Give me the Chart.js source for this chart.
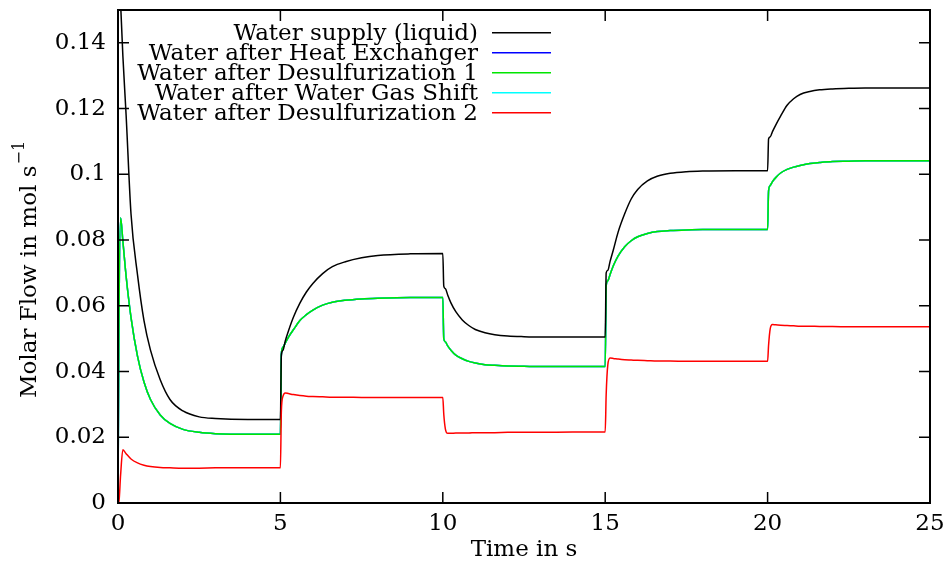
<!DOCTYPE html>
<html>
<head>
<meta charset="utf-8">
<script src="https://cdn.jsdelivr.net/npm/chart.js@4.4.1/dist/chart.umd.min.js"></script>
<style>
  html, body { margin: 0; padding: 0; background: #fff; }
  #wrap { width: 948px; height: 566px; }
</style>
</head>
<body>
<div id="wrap"><canvas id="myChart" width="948" height="566"></canvas></div>
<script>
// time samples (s), five step segments of the simulation
var times = [
  0, 0.03, 0.08, 0.15, 0.25, 0.4, 0.6, 0.8, 1, 1.3, 1.6, 2, 2.5, 3, 4,
  5, 5.03, 5.08, 5.15, 5.25, 5.4, 5.6, 5.8, 6, 6.3, 6.6, 7, 7.5, 8, 9,
  10, 10.03, 10.08, 10.15, 10.25, 10.4, 10.6, 10.8, 11, 11.3, 11.6, 12, 12.5, 13, 14,
  15, 15.03, 15.08, 15.15, 15.25, 15.4, 15.6, 15.8, 16, 16.3, 16.6, 17, 17.5, 18, 19,
  20, 20.03, 20.08, 20.15, 20.25, 20.4, 20.6, 20.8, 21, 21.3, 21.6, 22, 22.5, 23, 24,
  25
];

var waterSupply = [
  0.175, 0.166, 0.152, 0.136, 0.118, 0.088, 0.0695, 0.0555, 0.0465, 0.0375, 0.0315, 0.0280, 0.0262, 0.0257, 0.0254,
  0.0254, 0.0450, 0.0465, 0.0493, 0.0524, 0.0565, 0.0608, 0.0642, 0.0668, 0.0698, 0.0719, 0.0734, 0.0746, 0.0753, 0.0758,
  0.0759, 0.0660, 0.0652, 0.0633, 0.0609, 0.0582, 0.0557, 0.0540, 0.0528, 0.0518, 0.0512, 0.0508, 0.0506, 0.0505, 0.0505,
  0.0505, 0.0700, 0.0708, 0.0735, 0.0770, 0.0825, 0.0880, 0.0925, 0.0954, 0.0980, 0.0994, 0.1003, 0.1008, 0.1010, 0.1011,
  0.1011, 0.1108, 0.1114, 0.1130, 0.1150, 0.1177, 0.1210, 0.1230, 0.1243, 0.1252, 0.1257, 0.1260, 0.1262, 0.1263, 0.1263,
  0.1263
];

var afterDesulf1 = [
  0, 0.055, 0.0868, 0.0797, 0.0690, 0.0565, 0.0447, 0.0368, 0.0315, 0.0268, 0.0242, 0.0224, 0.0215, 0.0211, 0.0209,
  0.0209, 0.0455, 0.0474, 0.0487, 0.0505, 0.0527, 0.0555, 0.0573, 0.0587, 0.0602, 0.0611, 0.0617, 0.0621, 0.0623, 0.0625,
  0.0625, 0.0500, 0.0490, 0.0478, 0.0465, 0.0450, 0.0439, 0.0431, 0.0426, 0.0421, 0.0419, 0.0417, 0.0416, 0.0415, 0.0415,
  0.0415, 0.0660, 0.0676, 0.0695, 0.0722, 0.0752, 0.0780, 0.0798, 0.0810, 0.0820, 0.0826, 0.0829, 0.0831, 0.0832, 0.0832,
  0.0832, 0.0950, 0.0966, 0.0978, 0.0990, 0.1004, 0.1015, 0.1022, 0.1027, 0.1033, 0.1036, 0.1039, 0.1040, 0.1041, 0.1041,
  0.1041
];
// heat exchanger and water gas shift outlets lie on top of the desulfurization 1 curve
var afterHeatExchanger = afterDesulf1.slice();
var afterWGS = afterDesulf1.slice();

var afterDesulf2 = [
  0, 0.0005, 0.0085, 0.0162, 0.0150, 0.0134, 0.0122, 0.0115, 0.0111, 0.0108, 0.0107, 0.0106, 0.0106, 0.0107, 0.0107,
  0.0107, 0.0280, 0.0325, 0.0335, 0.0333, 0.0330, 0.0327, 0.0325, 0.0324, 0.0323, 0.0322, 0.0322, 0.0321, 0.0321, 0.0321,
  0.0321, 0.0270, 0.0225, 0.0212, 0.0212, 0.0213, 0.0213, 0.0213, 0.0214, 0.0214, 0.0214, 0.0215, 0.0215, 0.0215, 0.0216,
  0.0216, 0.0330, 0.0420, 0.0441, 0.0440, 0.0438, 0.0436, 0.0435, 0.0434, 0.0433, 0.0432, 0.0432, 0.0431, 0.0431, 0.0431,
  0.0431, 0.0480, 0.0530, 0.0543, 0.0542, 0.0541, 0.0540, 0.0539, 0.0538, 0.0538, 0.0537, 0.0537, 0.0536, 0.0536, 0.0536,
  0.0536
];

var xTicks = [0, 5, 10, 15, 20, 25];
var yTicks = [0, 0.02, 0.04, 0.06, 0.08, 0.1, 0.12, 0.14];

var labels = [
  'Water supply (liquid)',
  'Water after Heat Exchanger',
  'Water after Desulfurization 1',
  'Water after Water Gas Shift',
  'Water after Desulfurization 2'
];
var colors = ['#000000', '#0000ff', '#00e600', '#00ffff', '#ff0000'];
var series = [waterSupply, afterHeatExchanger, afterDesulf1, afterWGS, afterDesulf2];
var drawOrder = [1, 3, 1, 2, 0];

var FONT = '"DejaVu Serif", "Liberation Serif", serif';
var FS = 23;

function pts(vals) {
  return times.map(function (t, i) { return { x: t, y: vals[i] }; });
}

// gnuplot-like frame: closed box, inward ticks on all sides, key and y label
var framePlugin = {
  id: 'frame',
  afterDraw: function (chart) {
    var c = chart.ctx, a = chart.chartArea;
    var xs = chart.scales.x, ys = chart.scales.y;
    var tl = 11;
    c.save();
    c.strokeStyle = '#000';
    c.lineWidth = 1.5;
    c.beginPath();
    xTicks.forEach(function (v) {
      var px = xs.getPixelForValue(v);
      c.moveTo(px, a.bottom); c.lineTo(px, a.bottom - tl);
      c.moveTo(px, a.top); c.lineTo(px, a.top + tl);
    });
    yTicks.forEach(function (v) {
      var py = ys.getPixelForValue(v);
      c.moveTo(a.left, py); c.lineTo(a.left + tl, py);
      c.moveTo(a.right, py); c.lineTo(a.right - tl, py);
    });
    c.stroke();
    c.lineWidth = 2;
    c.strokeRect(a.left, a.top, a.right - a.left, a.bottom - a.top);

    // key
    c.font = FS + 'px ' + FONT;
    c.textAlign = 'right';
    c.textBaseline = 'middle';
    labels.forEach(function (lab, i) {
      var y = 32.7 + 20 * i;
      c.fillStyle = '#000';
      c.fillText(lab, 478, y + 1);
      c.strokeStyle = colors[i];
      c.lineWidth = 1.5;
      c.beginPath();
      c.moveTo(492, y); c.lineTo(551, y);
      c.stroke();
    });

    // y axis label with superscript
    c.translate(30, 270);
    c.rotate(-Math.PI / 2);
    c.fillStyle = '#000';
    c.textBaseline = 'middle';
    var main = 'Molar Flow in mol s';
    c.font = FS + 'px ' + FONT;
    var w1 = c.measureText(main).width;
    c.font = '16px ' + FONT;
    var w2 = c.measureText('\u22121').width;
    var x0 = -(w1 + w2) / 2;
    c.textAlign = 'left';
    c.font = FS + 'px ' + FONT;
    c.fillText(main, x0, 0);
    c.font = '16px ' + FONT;
    c.fillText('\u22121', x0 + w1 + 1, -10);
    c.restore();
  }
};

var ctx = document.getElementById('myChart').getContext('2d');
var chart = new Chart(ctx, {
  type: 'line',
  data: {
    datasets: series.map(function (s, i) {
      return {
        label: labels[i],
        data: pts(s),
        borderColor: colors[i],
        backgroundColor: colors[i],
        borderWidth: 1.5,
        pointRadius: 0,
        cubicInterpolationMode: 'monotone',
        fill: false,
        order: drawOrder[i]
      };
    })
  },
  options: {
    responsive: false,
    animation: false,
    events: [],
    layout: { padding: { left: 0, right: 18, top: 10, bottom: 0 } },
    plugins: { legend: { display: false }, tooltip: { enabled: false } },
    scales: {
      x: {
        type: 'linear',
        min: 0, max: 25,
        grid: { display: false, drawTicks: false },
        border: { display: false },
        afterBuildTicks: function (s) { s.ticks = xTicks.map(function (v) { return { value: v }; }); },
        afterFit: function (s) { s.height = 63; s.paddingLeft = 0; s.paddingRight = 0; },
        ticks: { color: '#000', padding: 7, maxRotation: 0, font: { family: FONT, size: FS } },
        title: { display: true, text: 'Time in s', color: '#000', padding: { top: 0, bottom: 2 }, font: { family: FONT, size: FS } }
      },
      y: {
        min: 0, max: 0.15,
        grid: { display: false, drawTicks: false },
        border: { display: false },
        afterBuildTicks: function (s) { s.ticks = yTicks.map(function (v) { return { value: v }; }); },
        afterFit: function (s) { s.width = 118; s.paddingTop = 0; s.paddingBottom = 0; },
        ticks: {
          color: '#000', padding: 12, font: { family: FONT, size: FS },
          callback: function (v) { return String(+v.toFixed(2)); }
        }
      }
    }
  },
  plugins: [framePlugin]
});
</script>
</body>
</html>
